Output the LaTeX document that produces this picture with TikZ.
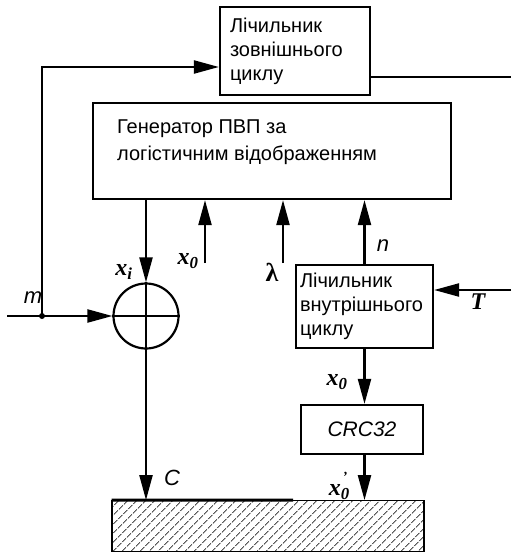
\documentclass[tikz,border=0pt]{standalone}
\usepackage{fontspec}
\setmainfont{Liberation Sans}
\newfontfamily\labelserif{Liberation Serif}
\usetikzlibrary{arrows.meta,positioning,calc,patterns.meta}
\tikzset{
    % Base block style
    blockbox/.style={
        draw=black,
        line width=2.2pt,
        align=left,
        font=\fontsize{20}{24}\selectfont
    },
    % Counter block
    counterbox/.style={
        blockbox,
        inner xsep=5pt,
        inner ysep=0pt
    },
    % Modulo-2 adder
    xorcircle/.style={
        circle,
        draw=black,
        line width=2.2pt,
        minimum size=65pt,
        inner sep=0pt
    },
    % Arrow style
    myarrow/.style={
        -{Triangle[length=25pt,width=13pt]},
        line width=2.2pt,
        draw=black
    },
    % Plain connector
    plainline/.style={
        line width=2.2pt,
        draw=black
    },
    % Signal labels
    mathlabel/.style={
        inner sep=0pt,
        font=\labelserif\bfseries\itshape\fontsize{24}{24}\selectfont
    },
    sanslabel/.style={
        inner sep=0pt,
        font=\itshape\fontsize{22}{22}\selectfont
    }
}

\begin{document}
\begin{tikzpicture}[x=1pt,y=-1pt]
    \useasboundingbox (0,0) rectangle (511,553);

    % blocks
    \node[counterbox, inner xsep=10pt, text width=130pt, minimum height=88pt] (cnt) at (295,51) {Лічильник\\зовнішнього\\циклу};
    \node[blockbox, minimum width=358pt, minimum height=96pt] (gen) at (272,151) {};
    \node[anchor=north west, align=left, inner sep=0pt, font=\fontsize{20}{27}\selectfont] (gentext) at (117,120) {Генератор ПВП за\\логістичним відображенням};
    \node[xorcircle] (xor) at (146,316) {};
    \node[counterbox, inner xsep=4pt, text width=129pt, minimum height=83pt] (inn) at (364.5,306.5) {Лічильник\\внутрішнього\\циклу};
    \node[blockbox, minimum width=122pt, minimum height=49pt, font=\itshape\fontsize{21}{24}\selectfont] (crc) at (362,429.5) {CRC32};
    \node[draw=black, line width=1.5pt, minimum width=312pt, minimum height=51pt,
          pattern={Lines[angle=45,distance=6.4pt,line width=0.8pt]}] (store) at (268,526) {};
    \draw[line width=2.8pt] (store.north west) -- ($(store.north west)!0.58!(store.north east)$);

    % cross inside the adder
    \draw[plainline] (xor.north) -- (xor.south);
    \draw[plainline] (xor.west) -- (xor.east);

    % free ends
    \coordinate (min) at (7,316);
    \coordinate (jm) at (42,316);
    \coordinate (top) at (42,67);
    \coordinate (cout) at (511,77);
    \coordinate (tin) at (511,290);
    \coordinate (x0in) at (205,263);
    \coordinate (lamin) at (283,263);

    % connectors
    \draw[myarrow] (min) -- (xor.west);
    \fill (jm) circle (3pt);
    \draw[myarrow] (jm) -- (top) -- (top -| cnt.west);
    \draw[plainline] (cout -| cnt.east) -- (cout);
    \draw[myarrow] (xor |- gen.south) -- (xor.north);
    \draw[myarrow] (x0in) -- (x0in |- gen.south);
    \draw[myarrow] (lamin) -- (lamin |- gen.south);
    \draw[myarrow] (inn.north) -- (inn.north |- gen.south);
    \draw[myarrow] (tin) -- (tin -| inn.east);
    \draw[myarrow] (inn.south) -- (inn.south |- crc.north);
    \draw[myarrow] (inn.south |- crc.south) -- (inn.south |- store.north);
    \draw[myarrow] (xor.south) -- (xor |- store.north);

    % labels
    \node[mathlabel] (lxi) at (124,272) {x\textsubscript{\textit{i}}};
    \node[mathlabel] (lx0) at (188,261) {x\textsubscript{0}};
    \node[mathlabel, font=\labelserif\bfseries\fontsize{26}{26}\selectfont] (llam) at (272,272) {λ};
    \node[sanslabel] (ln) at (383,246) {n};
    \node[mathlabel] (lT) at (478,302) {T};
    \node[sanslabel] (lm) at (33,298) {m};
    \node[mathlabel] (lx0b) at (337,382) {x\textsubscript{0}};
    \node[sanslabel] (lC) at (172,478) {C};
    \node[mathlabel] (lx0p) at (338,486) {x\textsubscript{0}\kern-0.3em\raisebox{0.6em}{\fontsize{14}{14}\selectfont\textquoteright}};
\end{tikzpicture}
\end{document}
